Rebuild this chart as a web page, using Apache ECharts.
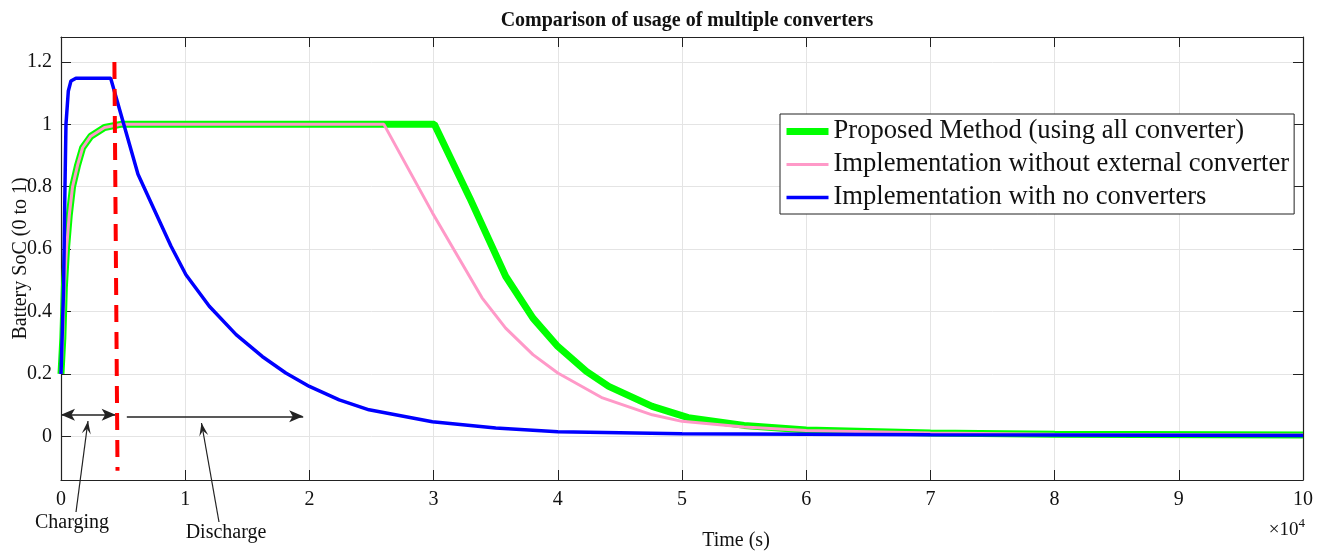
<!DOCTYPE html>
<html>
<head>
<meta charset="utf-8">
<script src="https://cdn.jsdelivr.net/npm/echarts@6/dist/echarts.min.js"></script>
<style>
  html, body { margin: 0; padding: 0; background: #fff; }
  #chart { width: 1323px; height: 553px; }
</style>
</head>
<body>
<div id="chart"></div>
<script>
// tick values of the SoC axis
const yTicks = [0, 0.2, 0.4, 0.6, 0.8, 1, 1.2];

// Proposed Method (using all converter)
const timeProposed = [0, 150, 270, 450, 670, 930, 1340, 1740, 2400, 3500, 4800, 30060, 32900, 35800, 38000, 40000, 42300, 44100, 47600, 50500, 55000, 60000, 70000, 80000, 100000];
const socProposed = [0.2, 0.316, 0.477, 0.605, 0.71, 0.8, 0.87, 0.925, 0.962, 0.99, 1.0, 1.0, 0.765, 0.513, 0.379, 0.288, 0.208, 0.16, 0.096, 0.06, 0.035, 0.02, 0.011, 0.007, 0.004];

// Implementation without external converter
const timeNoExt = [0, 150, 270, 450, 670, 930, 1340, 1740, 2400, 3500, 4800, 26000, 29900, 32100, 33900, 35800, 38000, 40000, 43600, 47600, 50000, 55000, 60000, 70000, 80000, 100000];
const socNoExt = [0.2, 0.316, 0.477, 0.605, 0.71, 0.8, 0.87, 0.925, 0.962, 0.99, 1.0, 1.0, 0.717, 0.567, 0.444, 0.347, 0.262, 0.203, 0.123, 0.069, 0.048, 0.03, 0.019, 0.011, 0.007, 0.004];

// Implementation with no converters
const timeNone = [0, 210, 320, 400, 590, 800, 1200, 4000, 6200, 7500, 8850, 10060, 11940, 14100, 16200, 18100, 20000, 22400, 24800, 29900, 35000, 40000, 50000, 70000, 100000];
const socNone = [0.2, 0.477, 0.8, 1.0, 1.107, 1.139, 1.148, 1.148, 0.84, 0.727, 0.61, 0.518, 0.417, 0.326, 0.256, 0.203, 0.16, 0.117, 0.085, 0.047, 0.027, 0.015, 0.008, 0.005, 0.003];

// end of charging (red dashed marker)
const chargeEndTime = [4300, 4550];
const chargeEndSoc = [1.2, -0.11];

const seriesNames = [
  "Proposed Method (using all converter)",
  "Implementation without external converter",
  "Implementation with no converters",
];

const FONT = "Liberation Serif";
const pairs = (t, s) => t.map((v, i) => [v, s[i]]);

const chart = echarts.init(document.getElementById("chart"));

const xBase = {
  type: "value",
  min: 0,
  max: 100000,
  interval: 10000,
  axisLine: { show: true, onZero: false, lineStyle: { color: "#222", width: 1.2 } },
  axisTick: { show: true, inside: true, length: 10, lineStyle: { color: "#222" } },
};
const yBase = {
  type: "value",
  min: -0.14,
  max: 1.28,
  axisLine: { show: true, onZero: false, lineStyle: { color: "#222", width: 1.2 } },
  axisTick: { show: true, inside: true, length: 10, customValues: yTicks, lineStyle: { color: "#222" } },
};

// barbed arrow head at tip, pointing away from "from"
function arrowHead(tip, from, len, half) {
  const dx = tip[0] - from[0], dy = tip[1] - from[1];
  const d = Math.sqrt(dx * dx + dy * dy);
  const ux = dx / d, uy = dy / d;
  const px = -uy, py = ux;
  return [
    tip,
    [tip[0] - ux * len + px * half, tip[1] - uy * len + py * half],
    [tip[0] - ux * len * 0.6, tip[1] - uy * len * 0.6],
    [tip[0] - ux * len - px * half, tip[1] - uy * len - py * half],
  ];
}

const lineWidths = [7, 3, 3.5];
const lineColors = ["#00ff00", "#ff99c8", "#0000ff"];

const option = {
  animation: false,
  backgroundColor: "#fff",
  title: {
    text: "Comparison of usage of multiple converters",
    left: 682,
    textAlign: "center",
    top: 6,
    textStyle: { fontFamily: FONT, fontSize: 20, fontWeight: "bold", color: "#111" },
  },
  grid: { left: 61, right: 20, top: 37, bottom: 73, outerBoundsMode: "none", containLabel: false },
  legend: {
    data: seriesNames.map((n, i) => ({ name: n, lineStyle: { width: lineWidths[i] } })),
    orient: "vertical",
    left: 780,
    top: 114,
    padding: [4, 5, 3, 3],
    itemWidth: 42,
    itemHeight: 14,
    itemGap: 6,
    borderColor: "#222",
    borderWidth: 1,
    backgroundColor: "#fff",
    selectedMode: false,
    itemStyle: { opacity: 0 },
    textStyle: { fontFamily: FONT, fontSize: 26.6, color: "#111" },
  },
  xAxis: [
    Object.assign({}, xBase, {
      position: "bottom",
      splitLine: { show: true, lineStyle: { color: "#e4e4e4", width: 1 } },
      axisLabel: {
        margin: 10,
        fontFamily: FONT,
        fontSize: 20,
        color: "#111",
        formatter: (v) => String(v / 10000),
      },
    }),
    Object.assign({}, xBase, {
      position: "top",
      splitLine: { show: false },
      axisLabel: { show: false },
    }),
  ],
  yAxis: [
    Object.assign({}, yBase, {
      position: "left",
      name: "Battery SoC (0 to 1)",
      nameLocation: "middle",
      nameGap: 30,
      nameMoveOverlap: false,
      nameTextStyle: { fontFamily: FONT, fontSize: 20, color: "#111" },
      splitLine: { show: true, lineStyle: { color: "#e4e4e4", width: 1 } },
      axisLabel: {
        margin: 9,
        customValues: yTicks,
        fontFamily: FONT,
        fontSize: 20,
        color: "#111",
      },
    }),
    Object.assign({}, yBase, {
      position: "right",
      splitLine: { show: false },
      axisLabel: { show: false },
    }),
  ],
  series: [
    {
      name: seriesNames[0],
      type: "line",
      data: pairs(timeProposed, socProposed),
      showSymbol: false,
      symbol: "none",
      lineStyle: { color: lineColors[0], width: lineWidths[0] },
      itemStyle: { color: lineColors[0] },
      z: 2,
    },
    {
      name: seriesNames[1],
      type: "line",
      data: pairs(timeNoExt, socNoExt),
      showSymbol: false,
      symbol: "none",
      lineStyle: { color: lineColors[1], width: lineWidths[1] },
      itemStyle: { color: lineColors[1] },
      z: 3,
    },
    {
      name: seriesNames[2],
      type: "line",
      data: pairs(timeNone, socNone),
      showSymbol: false,
      symbol: "none",
      lineStyle: { color: lineColors[2], width: lineWidths[2] },
      itemStyle: { color: lineColors[2] },
      z: 4,
    },
    {
      name: "charge end",
      type: "line",
      data: pairs(chargeEndTime, chargeEndSoc),
      showSymbol: false,
      symbol: "none",
      lineStyle: { color: "#ff0000", width: 4, type: [17, 10] },
      z: 5,
      markLine: {
        silent: true,
        animation: false,
        symbolSize: [9, 14],
        lineStyle: { color: "#222", width: 1.5, type: "solid" },
        label: { show: false },
        data: [
          [
            { coord: [0, 0.069], symbol: "arrow" },
            { coord: [4400, 0.069], symbol: "arrow" },
          ],
          [
            { coord: [5300, 0.064], symbol: "none" },
            { coord: [19500, 0.064], symbol: "arrow" },
          ],
        ],
      },
    },
  ],
};

chart.setOption(option);

// annotations below the axes
const leaders = [
  { from: [76, 512], tip: [88, 421] },
  { from: [219, 522], tip: [201.5, 423] },
];
const graphics = [];
leaders.forEach((l) => {
  graphics.push({
    type: "line",
    shape: { x1: l.from[0], y1: l.from[1], x2: l.tip[0], y2: l.tip[1] },
    style: { stroke: "#222", lineWidth: 1.2 },
    z: 10,
  });
  graphics.push({
    type: "polygon",
    shape: { points: arrowHead(l.tip, l.from, 13, 4.5) },
    style: { fill: "#222" },
    z: 10,
  });
});
graphics.push(
  {
    type: "text",
    x: 72, y: 523,
    style: { text: "Charging", font: "20px " + FONT, fill: "#111", align: "center", verticalAlign: "middle" },
    z: 10,
  },
  {
    type: "text",
    x: 226, y: 533,
    style: { text: "Discharge", font: "20px " + FONT, fill: "#111", align: "center", verticalAlign: "middle" },
    z: 10,
  },
  {
    type: "text",
    x: 736, y: 541,
    style: { text: "Time (s)", font: "20px " + FONT, fill: "#111", align: "center", verticalAlign: "middle" },
    z: 10,
  },
  {
    type: "text",
    x: 1305, y: 530,
    style: {
      text: "×10{s|4}",
      font: "19px " + FONT,
      fill: "#111",
      align: "right",
      verticalAlign: "middle",
      rich: { s: { fontSize: 13, fontFamily: FONT, padding: [0, 0, 12, 0], fill: "#111" } },
    },
    z: 10,
  }
);
chart.setOption({ graphic: graphics });
</script>
</body>
</html>
